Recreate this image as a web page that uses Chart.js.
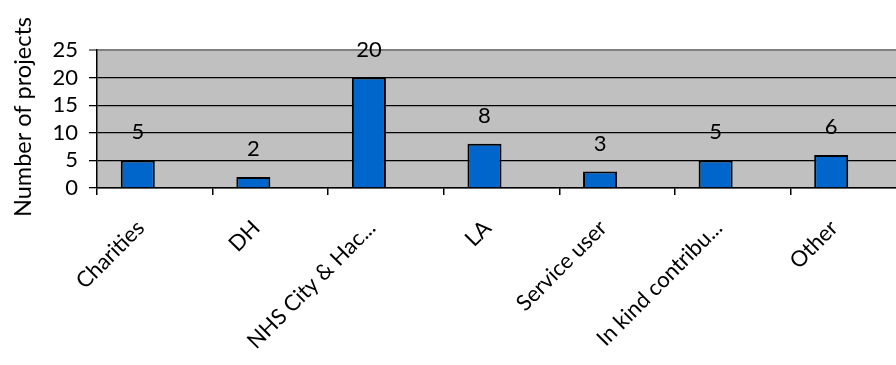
<!DOCTYPE html>
<html>
<head>
<meta charset="utf-8">
<script src="https://cdn.jsdelivr.net/npm/chart.js@4"></script>
<style>
  html, body { margin: 0; padding: 0; background: #fff; }
  #wrap { width: 896px; height: 365px; overflow: hidden; position: relative; }
  canvas { display: block; }
</style>
</head>
<body>
<div id="wrap"><canvas id="fundingChart" width="912" height="365"></canvas></div>
<script>
const categories = ['Charities', 'DH', 'NHS City & Hac...', 'LA', 'Service user', 'In kind contribu...', 'Other'];
const projectCounts = [5, 2, 20, 8, 3, 5, 6];
const emptySeries = [null, null, null, null, null, null, null];
const yTicks = [0, 5, 10, 15, 20, 25];
const yTitle = 'Number of projects';

const FONT = 'Lato, "Open Sans", sans-serif';
const FONT_SIZE = 22;

// writes the count above each bar
const barValueLabels = {
  id: 'barValueLabels',
  afterDatasetsDraw(chart) {
    const ctx = chart.ctx;
    const meta = chart.getDatasetMeta(0);
    ctx.save();
    ctx.font = FONT_SIZE + 'px ' + FONT;
    ctx.fillStyle = '#000';
    ctx.textAlign = 'center';
    ctx.textBaseline = 'middle';
    meta.data.forEach((bar, i) => {
      ctx.fillText(String(projectCounts[i]), bar.x, bar.y - 28);
    });
    ctx.restore();
  }
};

// rotated y axis title
const sideTitle = {
  id: 'sideTitle',
  afterDraw(chart) {
    const ctx = chart.ctx;
    ctx.save();
    ctx.translate(23, 117);
    ctx.rotate(-Math.PI / 2);
    ctx.font = '23.5px ' + FONT;
    ctx.fillStyle = '#000';
    ctx.textAlign = 'center';
    ctx.textBaseline = 'middle';
    ctx.fillText(yTitle, 0, 0);
    ctx.restore();
  }
};

const plotBackground = {
  id: 'plotBackground',
  beforeDraw(chart) {
    const a = chart.chartArea;
    chart.ctx.save();
    chart.ctx.fillStyle = '#C0C0C0';
    chart.ctx.fillRect(a.left, a.top, a.right - a.left, a.bottom - a.top);
    chart.ctx.restore();
  }
};

const ctx = document.getElementById('fundingChart').getContext('2d');
new Chart(ctx, {
  type: 'bar',
  data: {
    labels: categories,
    datasets: [
      {
        label: 'Projects',
        data: projectCounts,
        backgroundColor: '#0066CC',
        borderColor: '#000',
        borderWidth: 2,
        categoryPercentage: 0.589,
        barPercentage: 1
      },
      {
        label: '',
        data: emptySeries,
        categoryPercentage: 0.589,
        barPercentage: 1
      }
    ]
  },
  options: {
    responsive: false,
    animation: false,
    devicePixelRatio: 1,
    layout: { padding: { top: 50, right: 6, left: 0, bottom: 0 } },
    plugins: {
      legend: { display: false },
      tooltip: { enabled: false }
    },
    scales: {
      x: {
        offset: true,
        grid: {
          display: true,
          offset: true,
          drawOnChartArea: false,
          drawTicks: true,
          tickLength: 7,
          color: '#000',
          lineWidth: 1.5
        },
        border: { display: true, color: '#000', width: 1.5 },
        ticks: {
          minRotation: 45,
          maxRotation: 45,
          autoSkip: false,
          padding: 20,
          labelOffset: -14,
          color: '#000',
          font: { family: FONT, size: FONT_SIZE }
        },
        afterFit(scale) { scale.height = 177; }
      },
      y: {
        min: 0,
        max: 25,
        afterBuildTicks(scale) { scale.ticks = yTicks.map(v => ({ value: v })); },
        grid: {
          color: c => (c.tick && c.tick.value === 25 ? '#808080' : '#000'),
          lineWidth: c => (c.tick && c.tick.value === 25 ? 2 : 1.3),
          tickLength: 8,
          drawTicks: true
        },
        border: { display: true, color: '#000', width: 1.5 },
        ticks: {
          autoSkip: false,
          padding: 11,
          color: '#000',
          font: { family: FONT, size: FONT_SIZE }
        },
        afterFit(scale) { scale.width = 97; }
      }
    }
  },
  plugins: [plotBackground, barValueLabels, sideTitle]
});
</script>
</body>
</html>
